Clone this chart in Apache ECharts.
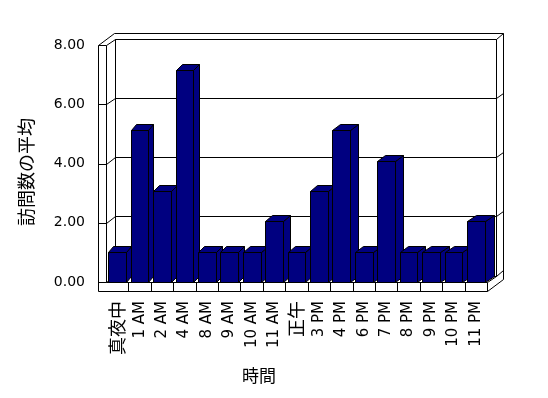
<!DOCTYPE html>
<html>
<head>
<meta charset="utf-8">
<script src="https://cdn.jsdelivr.net/npm/echarts@6/dist/echarts.min.js"></script>
<style>
html,body{margin:0;padding:0;background:#fff;}
#c{width:548px;height:398px;}
</style>
</head>
<body>
<div id="c"></div>
<script>
const categories = ['真夜中','1 AM','2 AM','4 AM','8 AM','9 AM','10 AM','11 AM','正午','3 PM','4 PM','6 PM','7 PM','8 PM','9 PM','10 PM','11 PM'];
const visits = [1, 5.13, 3.07, 7.17, 1, 1, 1, 2.05, 1, 3.07, 5.13, 1, 4.1, 1, 1, 1, 2.05];
const yTicks = [0, 2, 4, 6, 8];
const xTitle = '時間';
const yTitle = '訪問数の平均';

const chart = echarts.init(document.getElementById('c'), null, {renderer: 'canvas'});
const P = v => Math.round(v) + 0.5;
const LINE = {stroke: '#000', lineWidth: 1, fill: null};

function line(x1, y1, x2, y2) {
  return {type: 'line', shape: {x1: P(x1), y1: P(y1), x2: P(x2), y2: P(y2)}, style: LINE, silent: true};
}

function renderFrame(params, api) {
  const N = categories.length;
  const bw = api.size([1, 0])[0];
  const xL = api.coord([0, 0])[0] - bw / 2;
  const xR = api.coord([N - 1, 0])[0] + bw / 2;
  const F = v => api.coord([0, v])[1];
  const y0 = F(0), yTop = F(yTicks[yTicks.length - 1]);
  const dX = 9, dY = -6.3, oX = 15.5, oY = -11.7, slab = 9;
  const ch = [];
  // back wall fill
  ch.push({type: 'rect', shape: {x: P(xL + dX), y: P(yTop + dY), width: Math.round(xR - xL), height: Math.round(y0 - yTop)}, style: {fill: '#fff', stroke: '#000', lineWidth: 1}, silent: true});
  // gridlines on back wall, left wall, right edge
  yTicks.forEach(v => {
    const y = F(v);
    ch.push(line(xL + dX, y + dY, xR + dX, y + dY));
    ch.push(line(xL, y, xL + dX, y + dY));
    ch.push(line(xL - 8, y, xL, y));
    ch.push(line(xR + dX, y + dY, xR + oX + 0.5, y + oY));
  });
  // left wall
  ch.push(line(xL - 8, yTop, xL - 8, y0 + slab));
  ch.push(line(xL, yTop, xL, y0));
  ch.push(line(xL - 8, yTop, xL - 8 + oX, yTop + oY));
  // back wall outer edges
  ch.push(line(xL - 8 + oX, yTop + oY, xR + oX + 0.5, yTop + oY));
  ch.push(line(xR + oX + 0.5, yTop + oY, xR + oX + 0.5, y0 + slab + oY));
  // floor slab
  ch.push(line(xL, y0, xR, y0));
  ch.push(line(xL - 8, y0 + slab, xR, y0 + slab));
  ch.push(line(xR, y0, xR, y0 + slab));
  for (let k = 1; k < N; k++) {
    const x = xL + bw * k;
    ch.push(line(x, y0, x, y0 + slab));
  }
  ch.push(line(xR, y0, xR + dX, y0 + dY));
  ch.push(line(xR, y0 + slab, xR + oX + 0.5, y0 + slab + oY));
  return {type: 'group', children: ch};
}

function renderBar(params, api) {
  const i = api.value(0), v = api.value(1);
  const N = categories.length;
  const top = api.coord([i, v]);
  const base = api.coord([i, 0]);
  const bw = api.size([1, 0])[0];
  const w = bw * 0.79;
  const l = Math.round(top[0] - w / 2) + 0.5;
  const r = Math.round(top[0] + w / 2) + 0.5;
  const t = Math.round(top[1]) + 0.5;
  const b = Math.round(base[1]) + 0.5;
  const dx = Math.round(5 + 4.3 * i / (N - 1));
  const dy = -6;
  const st = {fill: '#000080', stroke: '#000', lineWidth: 1};
  return {type: 'group', children: [
    {type: 'polygon', shape: {points: [[r, t], [r + dx, t + dy], [r + dx, b + dy], [r, b]]}, style: st},
    {type: 'polygon', shape: {points: [[l, t], [l + dx, t + dy], [r + dx, t + dy], [r, t]]}, style: st},
    {type: 'rect', shape: {x: l, y: t, width: r - l, height: b - t}, style: st}
  ]};
}

const labelFont = '"DejaVu Sans", "Liberation Sans", sans-serif';
const cjkFont = '"Noto Sans CJK JP", sans-serif';

chart.setOption({
  animation: false,
  backgroundColor: '#fff',
  grid: {left: 106, right: 61, top: 45, bottom: 116},
  xAxis: {
    type: 'category',
    data: categories,
    axisLine: {show: false},
    axisTick: {show: false},
    axisLabel: {
      rotate: 90, margin: 19, color: '#000', fontSize: 15, fontFamily: labelFont,
      interval: 0,
      formatter: v => /[^\x00-\x7f]/.test(v) ? '{j|' + v + '}' : v,
      rich: {j: {fontSize: 18, fontFamily: cjkFont, color: '#000'}}
    },
    splitLine: {show: false}
  },
  yAxis: {
    type: 'value', min: 0, max: 8, interval: 2,
    axisLine: {show: false},
    axisTick: {show: false},
    splitLine: {show: false},
    axisLabel: {margin: 21, color: '#000', fontSize: 14, fontFamily: labelFont, formatter: v => v.toFixed(2)}
  },
  graphic: [
    {type: 'text', x: 259, y: 376, style: {text: xTitle, align: 'center', verticalAlign: 'middle', fontSize: 17, fontFamily: cjkFont, fill: '#000'}},
    {type: 'text', x: 26, y: 172, rotation: Math.PI / 2, style: {text: yTitle, align: 'center', verticalAlign: 'middle', fontSize: 18, fontFamily: cjkFont, fill: '#000'}}
  ],
  series: [
    {type: 'custom', z: 1, silent: true, renderItem: renderFrame, data: [[0, 0]], encode: {x: 0, y: 1}},
    {type: 'custom', z: 2, renderItem: renderBar, data: visits.map((v, i) => [i, v]), encode: {x: 0, y: 1}}
  ]
});
</script>
</body>
</html>
